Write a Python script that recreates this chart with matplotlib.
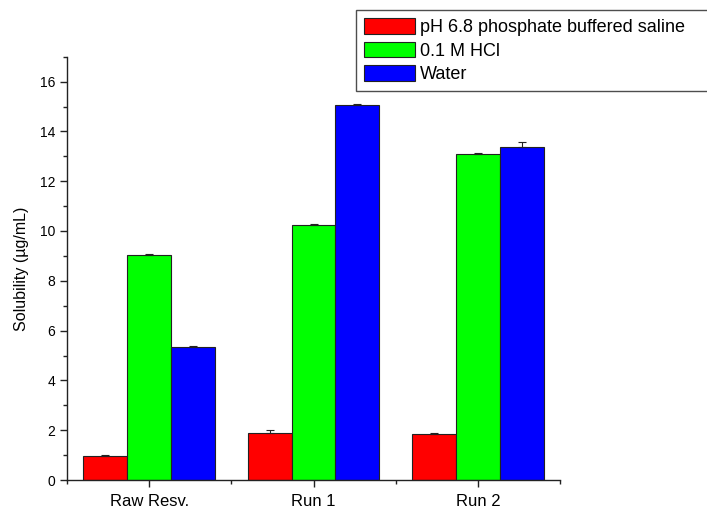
import numpy as np
import matplotlib.pyplot as plt
from matplotlib.ticker import MultipleLocator

plt.rcParams['font.family'] = ['Liberation Sans', 'DejaVu Sans']

groups = ['Raw Resv.', 'Run 1', 'Run 2']
series = ['pH 6.8 phosphate buffered saline', '0.1 M HCl', 'Water']
pbs = [0.95, 1.90, 1.85]
hcl = [9.03, 10.25, 13.10]
water = [5.35, 15.05, 13.36]
pbs_err = [0.04, 0.09, 0.05]
hcl_err = [0.04, 0.05, 0.04]
water_err = [0.04, 0.07, 0.22]
colors = ['#ff0000', '#00ff00', '#0000ff']

fig = plt.figure(figsize=(7.07, 5.09), dpi=100)
ax = fig.add_axes([67/707, 1-480/509, (560-67)/707, (480-56.7)/509])

x = np.arange(len(groups))
w = 0.8/3
for i, (vals, errs) in enumerate([(pbs, pbs_err), (hcl, hcl_err), (water, water_err)]):
    ax.bar(x + (i-1)*w, vals, w, color=colors[i], edgecolor='#222222', linewidth=0.8,
           label=series[i], zorder=2)
    ax.errorbar(x + (i-1)*w, vals, yerr=[np.zeros(len(errs)), errs], fmt='none',
                ecolor='#222222', elinewidth=0.8, capsize=3, capthick=0.8, zorder=3)

ax.set_xlim(-0.5, 2.5)
ax.set_ylim(0, 17)
ax.set_xticks(x)
ax.set_xticklabels(groups, fontsize=12)
ax.xaxis.set_minor_locator(MultipleLocator(0.5))
ax.yaxis.set_major_locator(MultipleLocator(2))
ax.yaxis.set_minor_locator(MultipleLocator(1))
ax.tick_params(axis='y', labelsize=10)
ax.tick_params(axis='x', pad=5)
ax.tick_params(which='major', direction='out', length=5, width=1, color='#222222')
ax.tick_params(which='minor', direction='out', length=3, width=1, color='#222222')
for s in ['top', 'right']:
    ax.spines[s].set_visible(False)
for s in ['left', 'bottom']:
    ax.spines[s].set_linewidth(1)
    ax.spines[s].set_color('#222222')
ax.set_ylabel('Solubility (µg/mL)', fontsize=11.5, labelpad=8)

leg = fig.legend(loc='upper left', bbox_to_anchor=(356/707, 1-90/509, 400/707, 80/509),
                 mode='expand', fontsize=13, frameon=True, fancybox=False,
                 edgecolor='#222222', handlelength=2.8, handleheight=0.95,
                 borderaxespad=0, labelspacing=0.3, handletextpad=0.3, borderpad=0.45)
leg.get_frame().set_linewidth(1)

fig.savefig('out.png', dpi=100)
